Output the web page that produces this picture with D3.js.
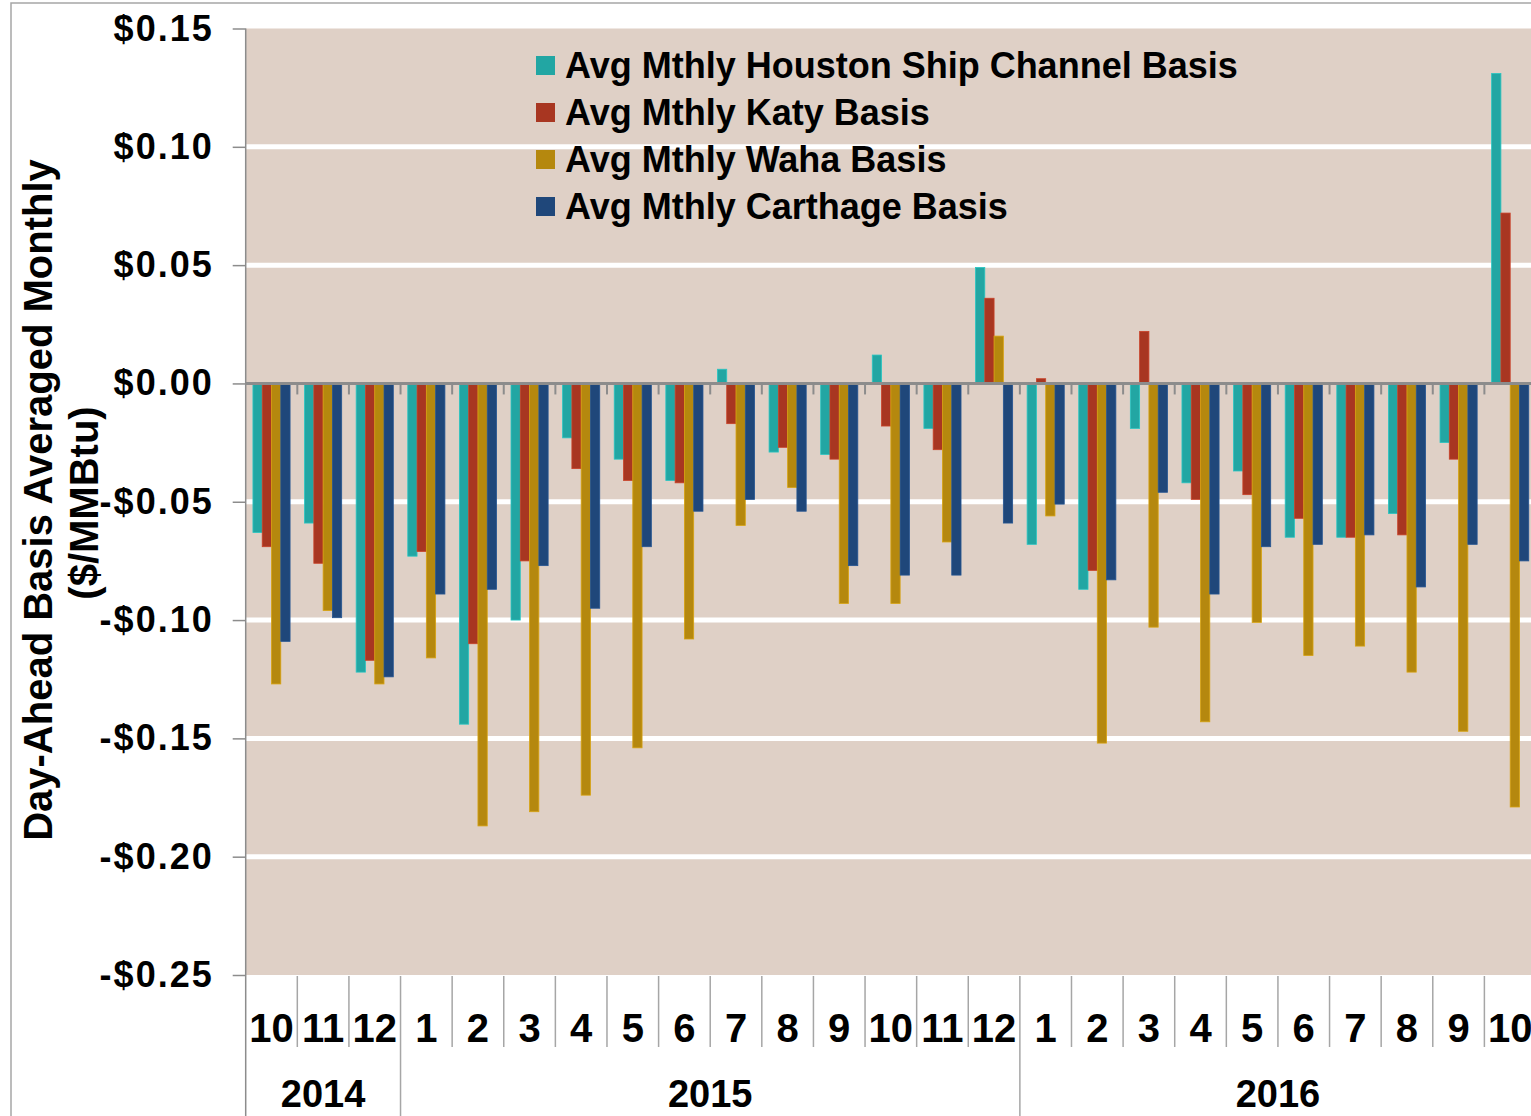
<!DOCTYPE html>
<html>
<head>
<meta charset="utf-8">
<script src="https://cdn.jsdelivr.net/npm/d3@7"></script>
<style>
  body { margin: 0; background: #fff; }
  svg { display: block; font-family: "Liberation Sans", Arial, sans-serif; font-weight: bold; }
</style>
</head>
<body>
<svg id="chart" width="1531" height="1116"></svg>
<script>
// months shown on the category axis (year-month)
const periods = [
  "2014-10", "2014-11", "2014-12",
  "2015-1", "2015-2", "2015-3", "2015-4", "2015-5", "2015-6",
  "2015-7", "2015-8", "2015-9", "2015-10", "2015-11", "2015-12",
  "2016-1", "2016-2", "2016-3", "2016-4", "2016-5", "2016-6",
  "2016-7", "2016-8", "2016-9", "2016-10"
];
const years = ["2014", "2015", "2016"];

const seriesNames = [
  "Avg Mthly Houston Ship Channel Basis",
  "Avg Mthly Katy Basis",
  "Avg Mthly Waha Basis",
  "Avg Mthly Carthage Basis"
];
const seriesColors = ["#22a6a3", "#a83621", "#b5880e", "#1f477a"];

// $/MMBtu
const houston = [-0.063, -0.059, -0.122, -0.073, -0.144, -0.100, -0.023, -0.032, -0.041, 0.006, -0.029, -0.030, 0.012, -0.019, 0.049, -0.068, -0.087, -0.019, -0.042, -0.037, -0.065, -0.065, -0.055, -0.025, 0.131];
const katy = [-0.069, -0.076, -0.117, -0.071, -0.110, -0.075, -0.036, -0.041, -0.042, -0.017, -0.027, -0.032, -0.018, -0.028, 0.036, 0.002, -0.079, 0.022, -0.049, -0.047, -0.057, -0.065, -0.064, -0.032, 0.072];
const waha = [-0.127, -0.096, -0.127, -0.116, -0.187, -0.181, -0.174, -0.154, -0.108, -0.060, -0.044, -0.093, -0.093, -0.067, 0.020, -0.056, -0.152, -0.103, -0.143, -0.101, -0.115, -0.111, -0.122, -0.147, -0.179];
const carthage = [-0.109, -0.099, -0.124, -0.089, -0.087, -0.077, -0.095, -0.069, -0.054, -0.049, -0.054, -0.077, -0.081, -0.081, -0.059, -0.051, -0.083, -0.046, -0.089, -0.069, -0.068, -0.064, -0.086, -0.068, -0.075];

const yTicks = [0.15, 0.10, 0.05, 0.00, -0.05, -0.10, -0.15, -0.20, -0.25];
const gridValues = [0.10, 0.05, -0.05, -0.10, -0.15, -0.20];

const seriesValues = [houston, katy, waha, carthage];

const svg = d3.select('#chart');
const H = 1116;
const plot = { left: 245.7, right: 1536, top: 28.5, bottom: 975 };

const x0 = d3.scaleBand().domain(periods).range([plot.left, plot.right]);
const x1 = d3.scaleBand()
  .domain(seriesNames)
  .range([0, x0.bandwidth()])
  .paddingInner(0)
  .paddingOuter(0.78);
const y = d3.scaleLinear().domain([-0.25, 0.15]).range([plot.bottom, plot.top]);

// outer frame
svg.append('rect')
  .attr('x', 11).attr('y', 3)
  .attr('width', 2000).attr('height', 2000)
  .attr('fill', 'none')
  .attr('stroke', '#a6a6a6')
  .attr('stroke-width', 1.5);

// plot background
svg.append('rect')
  .attr('x', plot.left).attr('y', plot.top)
  .attr('width', plot.right - plot.left)
  .attr('height', plot.bottom - plot.top)
  .attr('fill', '#dfd0c6');

svg.append('g')
  .selectAll('line')
  .data(gridValues)
  .join('line')
  .attr('x1', plot.left).attr('x2', plot.right)
  .attr('y1', d => y(d)).attr('y2', d => y(d))
  .attr('stroke', '#fff')
  .attr('stroke-width', 5);

// bars
const rows = periods.map((p, i) => ({ period: p, values: seriesNames.map((s, j) => ({ key: s, color: seriesColors[j], value: seriesValues[j][i] })) }));

svg.append('g')
  .selectAll('g')
  .data(rows)
  .join('g')
  .attr('transform', d => 'translate(' + x0(d.period) + ',0)')
  .selectAll('rect')
  .data(d => d.values)
  .join('rect')
  .attr('x', d => x1(d.key))
  .attr('width', x1.bandwidth())
  .attr('y', d => y(Math.max(0, d.value)))
  .attr('height', d => Math.abs(y(d.value) - y(0)))
  .attr('fill', d => d.color)
  .attr('stroke', d => d3.color(d.color).brighter(0.5))
  .attr('stroke-width', 0.8);

// zero line with category ticks
svg.append('line')
  .attr('x1', plot.left).attr('x2', plot.right)
  .attr('y1', y(0)).attr('y2', y(0))
  .attr('stroke', '#8c8c8c')
  .attr('stroke-width', 3);

const boundaries = periods.slice(1).map(p => x0(p));
svg.append('g')
  .selectAll('line')
  .data(boundaries)
  .join('line')
  .attr('x1', d => d).attr('x2', d => d)
  .attr('y1', y(0)).attr('y2', y(0) + 11)
  .attr('stroke', '#8c8c8c')
  .attr('stroke-width', 2);

// value axis
const fmt = v => (v < -0.0001 ? '-$' : '$') + Math.abs(v).toFixed(2);
const yAxis = svg.append('g')
  .attr('transform', 'translate(' + plot.left + ',0)')
  .call(d3.axisLeft(y).tickValues(yTicks).tickFormat(fmt).tickSize(13).tickPadding(19));
yAxis.select('.domain').remove();
yAxis.selectAll('.tick line').attr('stroke', '#8c8c8c').attr('stroke-width', 1.5);
yAxis.selectAll('.tick text')
  .attr('fill', '#000')
  .style('font-size', '36px')
  .style('font-weight', 'bold')
  .style('font-family', '"Liberation Sans", Arial, sans-serif')
  .style('letter-spacing', '2px');

svg.append('line')
  .attr('x1', plot.left).attr('x2', plot.left)
  .attr('y1', plot.top).attr('y2', H)
  .attr('stroke', '#8c8c8c')
  .attr('stroke-width', 1.5);

// category axis: month separators, year separators
const catG = svg.append('g');
periods.forEach((p, i) => {
  if (i === 0) return;
  const newYear = p.split('-')[0] !== periods[i - 1].split('-')[0];
  catG.append('line')
    .attr('x1', x0(p)).attr('x2', x0(p))
    .attr('y1', plot.bottom + 1).attr('y2', newYear ? H : 1047)
    .attr('stroke', '#a6a6a6')
    .attr('stroke-width', 1.5);
});

catG.selectAll('text.month')
  .data(periods)
  .join('text')
  .attr('class', 'month')
  .attr('x', d => x0(d) + x0.bandwidth() / 2)
  .attr('y', 1042)
  .attr('text-anchor', 'middle')
  .style('font-size', '40px')
  .text(d => d.split('-')[1]);

catG.selectAll('text.year')
  .data(years)
  .join('text')
  .attr('class', 'year')
  .attr('x', yr => {
    const ps = periods.filter(p => p.startsWith(yr));
    return (x0(ps[0]) + x0(ps[ps.length - 1]) + x0.bandwidth()) / 2;
  })
  .attr('y', 1107)
  .attr('text-anchor', 'middle')
  .style('font-size', '38px')
  .text(d => d);

// axis title
const title = svg.append('g')
  .attr('transform', 'translate(0,500)')
  .style('font-size', '40px');
title.append('text')
  .attr('transform', 'translate(52,0) rotate(-90)')
  .attr('text-anchor', 'middle')
  .text('Day-Ahead Basis Averaged Monthly');
title.append('text')
  .attr('transform', 'translate(98,3) rotate(-90)')
  .attr('text-anchor', 'middle')
  .text('($/MMBtu)');

// legend
const legend = svg.append('g')
  .attr('transform', 'translate(536,56)')
  .selectAll('g')
  .data(seriesNames)
  .join('g')
  .attr('transform', (d, i) => 'translate(0,' + i * 47 + ')');
legend.append('rect')
  .attr('width', 19).attr('height', 19)
  .attr('fill', (d, i) => seriesColors[i]);
legend.append('text')
  .attr('x', 29).attr('y', 22)
  .style('font-size', '36px')
  .text(d => d);
</script>
</body>
</html>
